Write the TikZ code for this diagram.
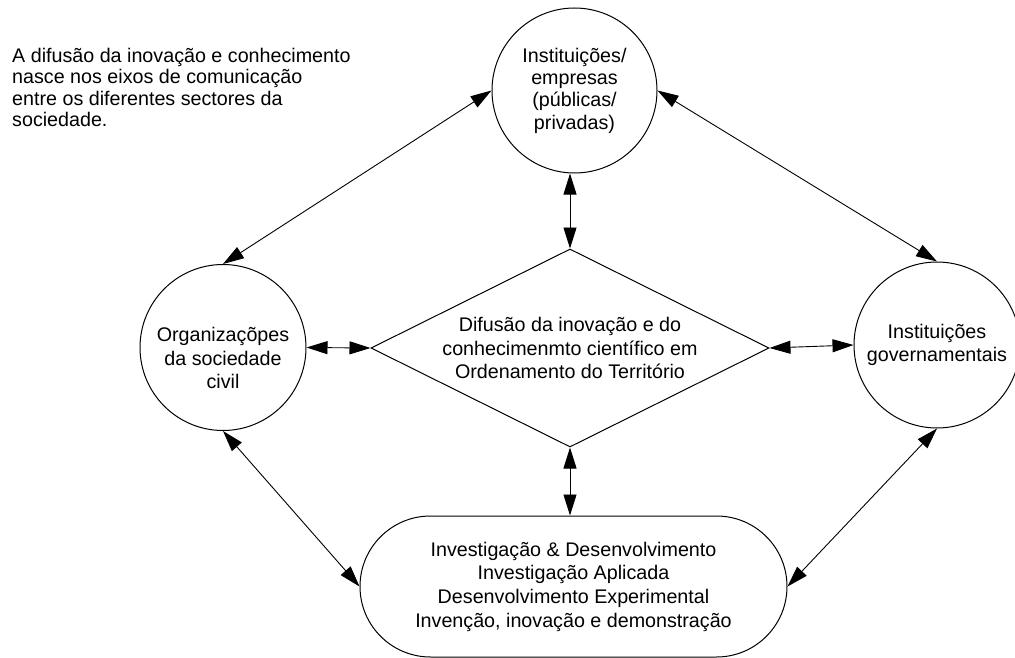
\documentclass[tikz,border=0pt]{standalone}
\usepackage{fontspec}
\setmainfont{Liberation Sans}
\usetikzlibrary{shapes.geometric,arrows.meta}
\begin{document}
\begin{tikzpicture}[x=1pt,y=-1pt,
  every node/.style={font=\fontsize{19.7}{23.5}\selectfont, align=center, inner sep=0pt},
  ring/.style={circle, draw, line width=1pt, minimum size=166pt},
  rhombus/.style={diamond, draw, line width=1pt, aspect=2, minimum width=398pt, minimum height=198pt},
  capsule/.style={rectangle, draw, line width=1pt, rounded corners=70.5pt, minimum width=427pt, minimum height=141pt},
  link/.style={{Triangle[length=21pt,width=13pt]}-{Triangle[length=21pt,width=13pt]}, line width=0.9pt}
]
\useasboundingbox (0,0) rectangle (1015,658);

% intro note
\node[anchor=north west, align=left, font=\fontsize{19.7}{21.5}\selectfont] (note) at (12,47.6)
  {A difusão da inovação e conhecimento\\nasce nos eixos de comunicação\\entre os diferentes sectores da\\sociedade.};

% actors
\node[ring, minimum size=165pt, font=\fontsize{19.7}{22.3}\selectfont] (inst) at (574.5,90.5)
  {Instituições/\\empresas\\(públicas/\\privadas)};
\node[ring] (org) at (223,347.5) {};
\node (orgtext) at (223,358) {Organizaçõpes\\da sociedade\\civil};
\node[ring] (gov) at (937,345) {Instituições\\governamentais};

% core
\node[rhombus] (diff) at (570,348)
  {Difusão da inovação e do\\conhecimenmto científico em\\Ordenamento do Território};

% research and development
\node[capsule, font=\fontsize{19.7}{23.7}\selectfont] (rd) at (573.5,586.5)
  {Investigação \& Desenvolvimento\\Investigação Aplicada\\Desenvolvimento Experimental\\Invenção, inovação e demonstração};

% links
\draw[link] (inst.west) -- (org.north);
\draw[link] (inst.east) -- (gov.north);
\draw[link] (diff.north) -- (diff.north |- inst.south);
\draw[link] (org.east) -- (diff.west);
\draw[link] (diff.east) -- (gov.west);
\draw[link] (diff.south) -- (diff.south |- rd.north);
\draw[link] (org.south) -- (rd.west);
\draw[link] (gov.south) -- (rd.east);
\end{tikzpicture}
\end{document}
